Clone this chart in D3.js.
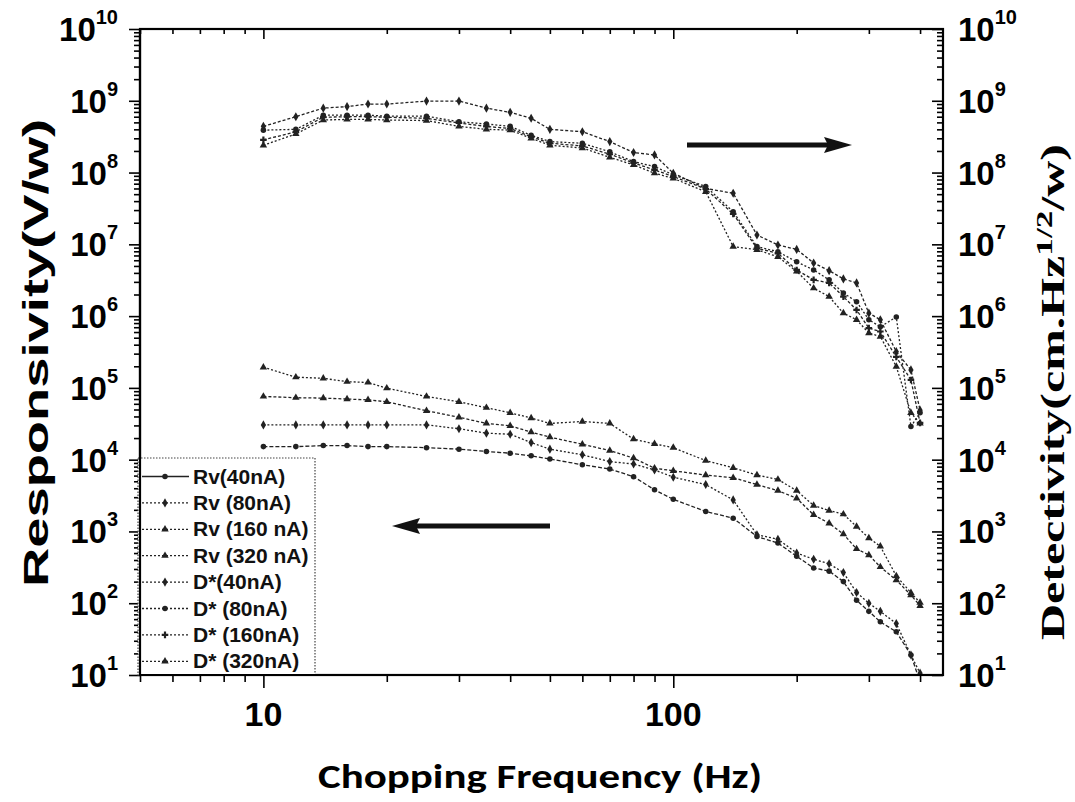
<!DOCTYPE html>
<html><head><meta charset="utf-8">
<script src="https://cdn.jsdelivr.net/npm/d3@7"></script>
<style>body{margin:0;background:#fff;} svg{display:block;}</style>
</head><body>
<svg id="chart" width="1075" height="802"></svg>
<script>
// ---------- DATA ----------
const freq = [10,12,14,16,18,20,25,30,35,40,45,50,60,70,80,90,100,120,140,160,180,200,220,240,260,280,300,320,350,380,400];

const rv40  = [1.52e4,1.52e4,1.57e4,1.57e4,1.52e4,1.52e4,1.47e4,1.4e4,1.3e4,1.23e4,1.13e4,1.02e4,8.5e3,7.4e3,5.8e3,3.8e3,2.8e3,1.9e3,1.53e3,850,690,450,310,280,200,110,77,55,40,19,8];
const rv80  = [3.05e4,3.05e4,3.05e4,3.05e4,3.05e4,3.05e4,3.05e4,2.7e4,2.34e4,2.26e4,1.73e4,1.4e4,1.17e4,9.4e3,8.7e3,7.2e3,5.7e3,4.5e3,2.75e3,900,780,500,410,354,268,141,100,77,52,19,10.6];
const rv160 = [7.6e4,7.3e4,7.2e4,7.0e4,6.8e4,6.4e4,4.8e4,3.9e4,3.2e4,2.96e4,2.42e4,2.06e4,1.64e4,1.34e4,1.05e4,7.6e3,7.0e3,6.1e3,5.6e3,4.5e3,3.7e3,2.9e3,1.7e3,1.3e3,920,570,470,320,210,130,92];
const rv320 = [1.94e5,1.41e5,1.36e5,1.22e5,1.19e5,9.9e4,7.6e4,6.4e4,5.3e4,4.5e4,3.8e4,3.2e4,3.4e4,3.2e4,1.93e4,1.66e4,1.47e4,9.7e3,7.7e3,6.1e3,5.3e3,3.7e3,2.3e3,1.95e3,1.74e3,1.17e3,810,620,240,140,102];

const dStar40  = [4.4e8,6.0e8,7.9e8,8.3e8,9.0e8,9.0e8,9.9e8,9.9e8,7.9e8,6.9e8,5.7e8,4.0e8,3.7e8,2.7e8,1.9e8,1.76e8,9.8e7,6.0e7,5.15e7,1.35e7,9.8e6,8.5e6,5.5e6,4.3e6,3.3e6,2.9e6,1.1e6,8.9e5,3.2e5,1.78e5,4.9e4];
const dStar80  = [3.9e8,4.0e8,6.3e8,6.3e8,6.3e8,6.1e8,6.1e8,5.1e8,4.75e8,4.4e8,3.3e8,2.7e8,2.56e8,1.95e8,1.42e8,1.21e8,9.3e7,6.4e7,2.85e7,9.3e6,7.9e6,5.7e6,4.4e6,3.2e6,2.1e6,1.59e6,8.9e5,7.1e5,9.7e5,2.9e4,4.5e4];
const dStar160 = [2.85e8,3.7e8,5.9e8,6.0e8,6.0e8,5.9e8,5.7e8,4.9e8,4.4e8,4.1e8,3.16e8,2.56e8,2.35e8,1.8e8,1.36e8,1.09e8,8.8e7,5.9e7,2.65e7,8.8e6,7.5e6,4.4e6,3.2e6,2.9e6,1.87e6,1.22e6,6.8e5,6.1e5,2.7e5,1.29e5,3.25e4];
const dStar320 = [2.4e8,3.45e8,5.4e8,5.5e8,5.5e8,5.4e8,5.3e8,4.4e8,4.0e8,3.9e8,3.0e8,2.4e8,2.2e8,1.63e8,1.28e8,9.8e7,8.3e7,5.4e7,9.3e6,8.4e6,6.7e6,4.2e6,2.45e6,1.87e6,1.1e6,8.9e5,5.8e5,5.2e5,1.98e5,4.5e4,3.2e4];

const seriesNames = ["Rv(40nA)","Rv (80nA)","Rv (160 nA)","Rv (320 nA)","D*(40nA)","D* (80nA)","D* (160nA)","D* (320nA)"];
const seriesValues = [rv40, rv80, rv160, rv320, dStar40, dStar80, dStar160, dStar320];

const yTickExponents = [1,2,3,4,5,6,7,8,9,10];
const xTickLabels = [10, 100];
const xMinorTicks = [5,6,7,8,9,20,30,40,50,60,70,80,90,200,300,400];

// ---------- LAYOUT ----------
const L = 140, R = 943, T = 29, B = 675;
const svg = d3.select("#chart");
const x = d3.scaleLog().domain([5, 455]).range([L, R]);
const y = d3.scaleLog().domain([10, 1e10]).range([B, T]);

const yMajor = yTickExponents.map(e => Math.pow(10, e));
const yMinor = [];
yTickExponents.slice(0, -1).forEach(e => { for (let k = 2; k <= 9; k++) yMinor.push(k * Math.pow(10, e)); });

svg.append("defs").append("clipPath").attr("id", "clip")
  .append("rect").attr("x", L).attr("y", T).attr("width", R - L).attr("height", B - T);

function styleAxis(g) {
  g.select(".domain").remove();
  g.selectAll(".tick line").attr("stroke", "#000").attr("stroke-width", 1.6);
  g.selectAll(".tick text").remove();
}
// left axis (outward)
svg.append("g").attr("transform", `translate(${L},0)`).call(d3.axisLeft(y).tickValues(yMajor).tickSize(11)).call(styleAxis);
svg.append("g").attr("transform", `translate(${L},0)`).call(d3.axisLeft(y).tickValues(yMinor).tickSize(6)).call(styleAxis);
// right axis (inward)
svg.append("g").attr("transform", `translate(${R},0)`).call(d3.axisLeft(y).tickValues(yMajor).tickSize(11)).call(styleAxis);
svg.append("g").attr("transform", `translate(${R},0)`).call(d3.axisLeft(y).tickValues(yMinor).tickSize(6)).call(styleAxis);
// bottom axis (outward)
svg.append("g").attr("transform", `translate(0,${B})`).call(d3.axisBottom(x).tickValues(xTickLabels).tickSize(13)).call(styleAxis);
svg.append("g").attr("transform", `translate(0,${B})`).call(d3.axisBottom(x).tickValues(xMinorTicks).tickSize(7)).call(styleAxis);
// top axis (inward)
svg.append("g").attr("transform", `translate(0,${T})`).call(d3.axisBottom(x).tickValues(xTickLabels).tickSize(10)).call(styleAxis);
svg.append("g").attr("transform", `translate(0,${T})`).call(d3.axisBottom(x).tickValues(xMinorTicks).tickSize(5)).call(styleAxis);

// frame
svg.append("rect").attr("x", L).attr("y", T).attr("width", R - L).attr("height", B - T)
  .attr("fill", "none").attr("stroke", "#000").attr("stroke-width", 2.2);

// y tick labels
const lab = "'Liberation Sans', Arial, sans-serif";
function powLabel(g, anchor, xPos, e) {
  const t = g.append("text").attr("x", xPos).attr("y", y(Math.pow(10, e)) + 12)
    .attr("text-anchor", anchor).attr("font-family", lab).attr("font-weight", "bold")
    .attr("font-size", 33).attr("fill", "#000");
  t.append("tspan").text("10");
  t.append("tspan").attr("font-size", 20).attr("dy", -17).text(e);
}
const gl = svg.append("g");
yTickExponents.forEach(e => { powLabel(gl, "end", 118, e); powLabel(gl, "start", 958, e); });

// x tick labels
svg.append("g").selectAll("text").data(xTickLabels).join("text")
  .attr("x", d => x(d)).attr("y", 726).attr("text-anchor", "middle")
  .attr("font-family", lab).attr("font-weight", "bold").attr("font-size", 34).text(d => d);

// axis titles
svg.append("text").attr("transform", "translate(48,353) rotate(-90)")
  .attr("text-anchor", "middle").attr("font-family", lab).attr("font-weight", "bold")
  .attr("font-size", 35).attr("textLength", 468).attr("lengthAdjust", "spacingAndGlyphs")
  .text("Responsivity(V/w)");

const rt = svg.append("text").attr("transform", "translate(1064,392) rotate(-90) scale(1.47,1)")
  .attr("text-anchor", "middle").attr("font-family", "'Liberation Serif', 'Times New Roman', serif")
  .attr("font-weight", "bold").attr("font-size", 34);
rt.append("tspan").text("Detectivity(cm.Hz");
rt.append("tspan").attr("font-size", 24).attr("dy", -12).text("1/2");
rt.append("tspan").attr("dy", 12).text("/w)");

svg.append("text").attr("x", 318).attr("y", 788)
  .attr("font-family", "Carlito, 'Open Sans', 'Liberation Sans', sans-serif").attr("font-weight", "bold")
  .attr("font-size", 34).attr("textLength", 444).attr("lengthAdjust", "spacingAndGlyphs")
  .text("Chopping Frequency  (Hz)");

// arrows
function arrow(x1, x2, yy) {
  const dir = Math.sign(x2 - x1);
  svg.append("line").attr("x1", x1).attr("x2", x2 - dir * 24).attr("y1", yy).attr("y2", yy)
    .attr("stroke", "#111").attr("stroke-width", 5);
  svg.append("path").attr("d", `M${x2},${yy} L${x2 - dir * 28},${yy - 8} L${x2 - dir * 24},${yy} L${x2 - dir * 28},${yy + 8} Z`)
    .attr("fill", "#111");
}
arrow(687, 852, 145);
arrow(550, 392, 526);

// data
const symbolTypes = [d3.symbolCircle, d3.symbolDiamond, d3.symbolTriangle, d3.symbolTriangle,
                     d3.symbolDiamond, d3.symbolCircle, d3.symbolCross, d3.symbolTriangle];
const dashes = ["4,2", "2,2", "3,2", "2,2", "3,2", "2,2", "3,2", "2,2"];
const line = d3.line().x(d => x(d[0])).y(d => y(d[1]));
const plot = svg.append("g").attr("clip-path", "url(#clip)");
seriesValues.forEach((vals, i) => {
  const pts = freq.map((f, j) => [f, vals[j]]);
  plot.append("path").datum(pts).attr("d", line).attr("fill", "none")
    .attr("stroke", "#222").attr("stroke-width", 1.3).attr("stroke-dasharray", dashes[i]);
  plot.append("g").selectAll("path").data(pts).join("path")
    .attr("transform", d => `translate(${x(d[0])},${y(d[1])})`)
    .attr("d", d3.symbol().type(symbolTypes[i]).size(24)).attr("fill", "#222");
});

// legend
const lg = svg.append("g");
lg.append("rect").attr("x", 138).attr("y", 458).attr("width", 177).attr("height", 217)
  .attr("fill", "#fff").attr("stroke", "#444").attr("stroke-width", 1.2).attr("stroke-dasharray", "1.5,1.5");
seriesNames.forEach((name, i) => {
  const yy = 476.5 + i * 26.4;
  lg.append("line").attr("x1", 142).attr("x2", 189).attr("y1", yy).attr("y2", yy)
    .attr("stroke", "#222").attr("stroke-width", 1.3).attr("stroke-dasharray", i === 0 ? null : "2,2");
  lg.append("path").attr("transform", `translate(165,${yy})`)
    .attr("d", d3.symbol().type(symbolTypes[i]).size(24)).attr("fill", "#222");
  lg.append("text").attr("x", 193).attr("y", yy + 7).attr("font-family", lab)
    .attr("font-weight", "bold").attr("font-size", 21).attr("fill", "#111").text(name);
});
// redraw left & bottom frame edges over legend
svg.append("line").attr("x1", L).attr("x2", L).attr("y1", T).attr("y2", B).attr("stroke", "#000").attr("stroke-width", 2.2);
svg.append("line").attr("x1", L).attr("x2", R).attr("y1", B).attr("y2", B).attr("stroke", "#000").attr("stroke-width", 2.2);
</script>
</body></html>
